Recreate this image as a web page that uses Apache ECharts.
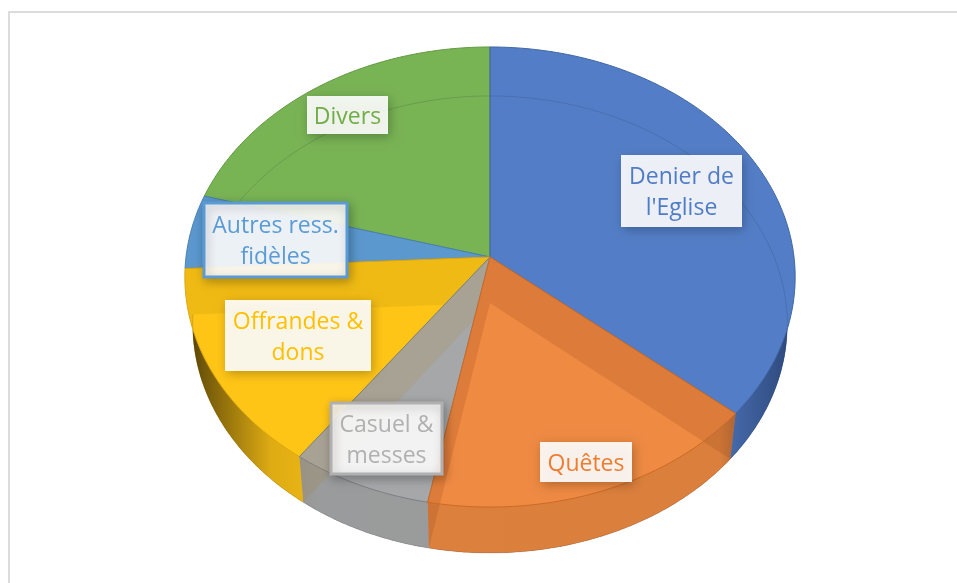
<!DOCTYPE html>
<html>
<head>
<meta charset="utf-8">
<title>Ressources</title>
<style>
  html, body { margin: 0; padding: 0; background: #fff; }
  #chart { width: 957px; height: 583px; }
</style>
<script src="https://cdn.jsdelivr.net/npm/echarts@6/dist/echarts.min.js"></script>
</head>
<body>
<div id="chart"></div>
<script>
const categories = ["Denier de\nl'Eglise", "Quêtes", "Casuel &\nmesses", "Offrandes &\ndons", "Autres ress.\nfidèles", "Divers"];
const shares = [36.2, 16.8, 6.9, 14.3, 5.2, 20.6];

// back slices first, the front ones are painted over their ghosts
const paintOrder = [5, 4, 0, 3, 2, 1];

const faceColors = ["#537EC7", "#EE8A42", "#A6A7A9", "#FFC516", "#5B98CE", "#78B354"];
const bandColors = ["#537EC7", "#DD7C3A", "#A8A294", "#F0BA14", "#5B98CE", "#78B354"];
const edgeColors = ["#3F659F", "#CC6A22", "#7C7F84", "#DDA60F", "#4A80B2", "#62983F"];
const textColors = ["#4F7CC6", "#ED7D31", "#B0B0B0", "#FFC000", "#5B9BD5", "#70AD47"];

// x, y, width, height, border width of each label box
const labelBoxes = [
  [621, 155, 121, 72, 0],
  [540, 442, 92, 40, 0],
  [331, 403, 111, 71, 3],
  [225, 300, 146, 71, 0],
  [204, 203, 143, 74, 3],
  [307, 96, 81, 38, 0]
];

const CX = 490;
const topDisc = { apex: 257, r: 304, s: 228.3, p: 0.087 };
const bottomDisc = { apex: 303, r: 296, s: 226.5, p: 0.094 };

// perspective projection of a point of the rim, angle clockwise from 12 o'clock
function rim(disc, a) {
  const u = Math.sin(a);
  const v = -Math.cos(a);
  const w = 1 - disc.p * v;
  return [CX + disc.r * u / w, disc.apex + disc.s * v / w];
}
function outline(disc) {
  const up = disc.s / (1 + disc.p);
  const down = disc.s / (1 - disc.p);
  return {
    cy: disc.apex + (down - up) / 2,
    a: disc.r / Math.sqrt(1 - disc.p * disc.p),
    b: (down + up) / 2
  };
}
function inside(pt, o) {
  const dx = (pt[0] - CX) / o.a;
  const dy = (pt[1] - o.cy) / o.b;
  return dx * dx + dy * dy < 1;
}
function arc(disc, a0, a1) {
  const pts = [];
  const n = Math.ceil((a1 - a0) / 0.01);
  for (let i = 0; i <= n; i++) {
    pts.push(rim(disc, a0 + (a1 - a0) * i / n));
  }
  return pts;
}

const total = shares.reduce((a, b) => a + b, 0);
const starts = [];
shares.reduce((acc, v, i) => {
  starts[i] = acc / total * Math.PI * 2;
  return acc + v;
}, 0);

const topOutline = outline(topDisc);
const bottomOutline = outline(bottomDisc);

const wallShade = new echarts.graphic.LinearGradient(185, 0, 800, 0, [
  { offset: 0, color: "rgba(20,15,0,0.78)" },
  { offset: 0.03, color: "rgba(20,15,0,0.6)" },
  { offset: 0.14, color: "rgba(20,15,0,0.14)" },
  { offset: 0.22, color: "rgba(20,15,0,0.08)" },
  { offset: 0.87, color: "rgba(20,15,0,0.09)" },
  { offset: 0.9, color: "rgba(10,20,50,0.24)" },
  { offset: 1, color: "rgba(10,20,50,0.55)" }
], true);

function renderSlice(params, api) {
  const i = api.value(0);
  const a0 = starts[i];
  const a1 = a0 + shares[i] / total * Math.PI * 2;

  const topArc = arc(topDisc, a0, a1);
  const bottomArc = arc(bottomDisc, a0, a1);
  const topFace = [[CX, topDisc.apex]].concat(topArc);
  const bottomFace = [[CX, bottomDisc.apex]].concat(bottomArc);

  const wallTop = topArc.filter(pt => inside(pt, bottomOutline));
  const wallBottom = bottomArc.filter(pt => !inside(pt, topOutline));
  const hasWall = wallTop.length > 0 && wallBottom.length > 0;
  const wall = wallTop.concat(wallBottom.slice().reverse());

  const children = [];
  children.push({ type: "polygon", shape: { points: topFace }, style: { fill: bandColors[i] } });
  if (hasWall) {
    children.push({ type: "polygon", shape: { points: wall }, style: { fill: bandColors[i] } });
  }
  children.push({ type: "polygon", shape: { points: bottomFace }, style: { fill: faceColors[i] } });
  if (hasWall) {
    children.push({ type: "polygon", shape: { points: wall }, style: { fill: wallShade } });
  }
  children.push({
    type: "polyline",
    shape: { points: bottomArc },
    style: { fill: null, stroke: "rgba(30,40,60,0.16)", lineWidth: 1 }
  });
  children.push({
    type: "polygon",
    shape: { points: topFace },
    style: { fill: null, stroke: edgeColors[i], lineWidth: 1 }
  });
  return { type: "group", children: children };
}

function renderLabel(params, api) {
  const i = api.value(0);
  const box = labelBoxes[i];
  return {
    type: "group",
    children: [
      {
        type: "rect",
        shape: { x: box[0], y: box[1], width: box[2], height: box[3] },
        style: {
          fill: "rgba(255,255,255,0.9)",
          stroke: box[4] ? textColors[i] : null,
          lineWidth: box[4],
          shadowBlur: 10,
          shadowOffsetX: 2,
          shadowOffsetY: 3,
          shadowColor: "rgba(0,0,0,0.28)"
        }
      },
      {
        type: "text",
        x: box[0] + box[2] / 2,
        y: box[1] + box[3] / 2 + 2,
        style: {
          text: categories[i],
          fill: textColors[i],
          font: "23px 'Open Sans'",
          lineHeight: 31,
          align: "center",
          verticalAlign: "middle"
        }
      }
    ]
  };
}

const chart = echarts.init(document.querySelector("#chart"));
chart.setOption({
  backgroundColor: "#fff",
  animation: false,
  graphic: [{
    type: "rect",
    shape: { x: 9, y: 12, width: 1000, height: 640 },
    style: { fill: null, stroke: "#dcdcdc", lineWidth: 2 },
    silent: true
  }],
  series: [
    {
      type: "custom",
      coordinateSystem: "none",
      silent: true,
      z: 2,
      renderItem: renderSlice,
      data: paintOrder.map(i => [i])
    },
    {
      type: "custom",
      coordinateSystem: "none",
      silent: true,
      z: 3,
      renderItem: renderLabel,
      data: categories.map((c, i) => [i])
    }
  ]
});
</script>
</body>
</html>
